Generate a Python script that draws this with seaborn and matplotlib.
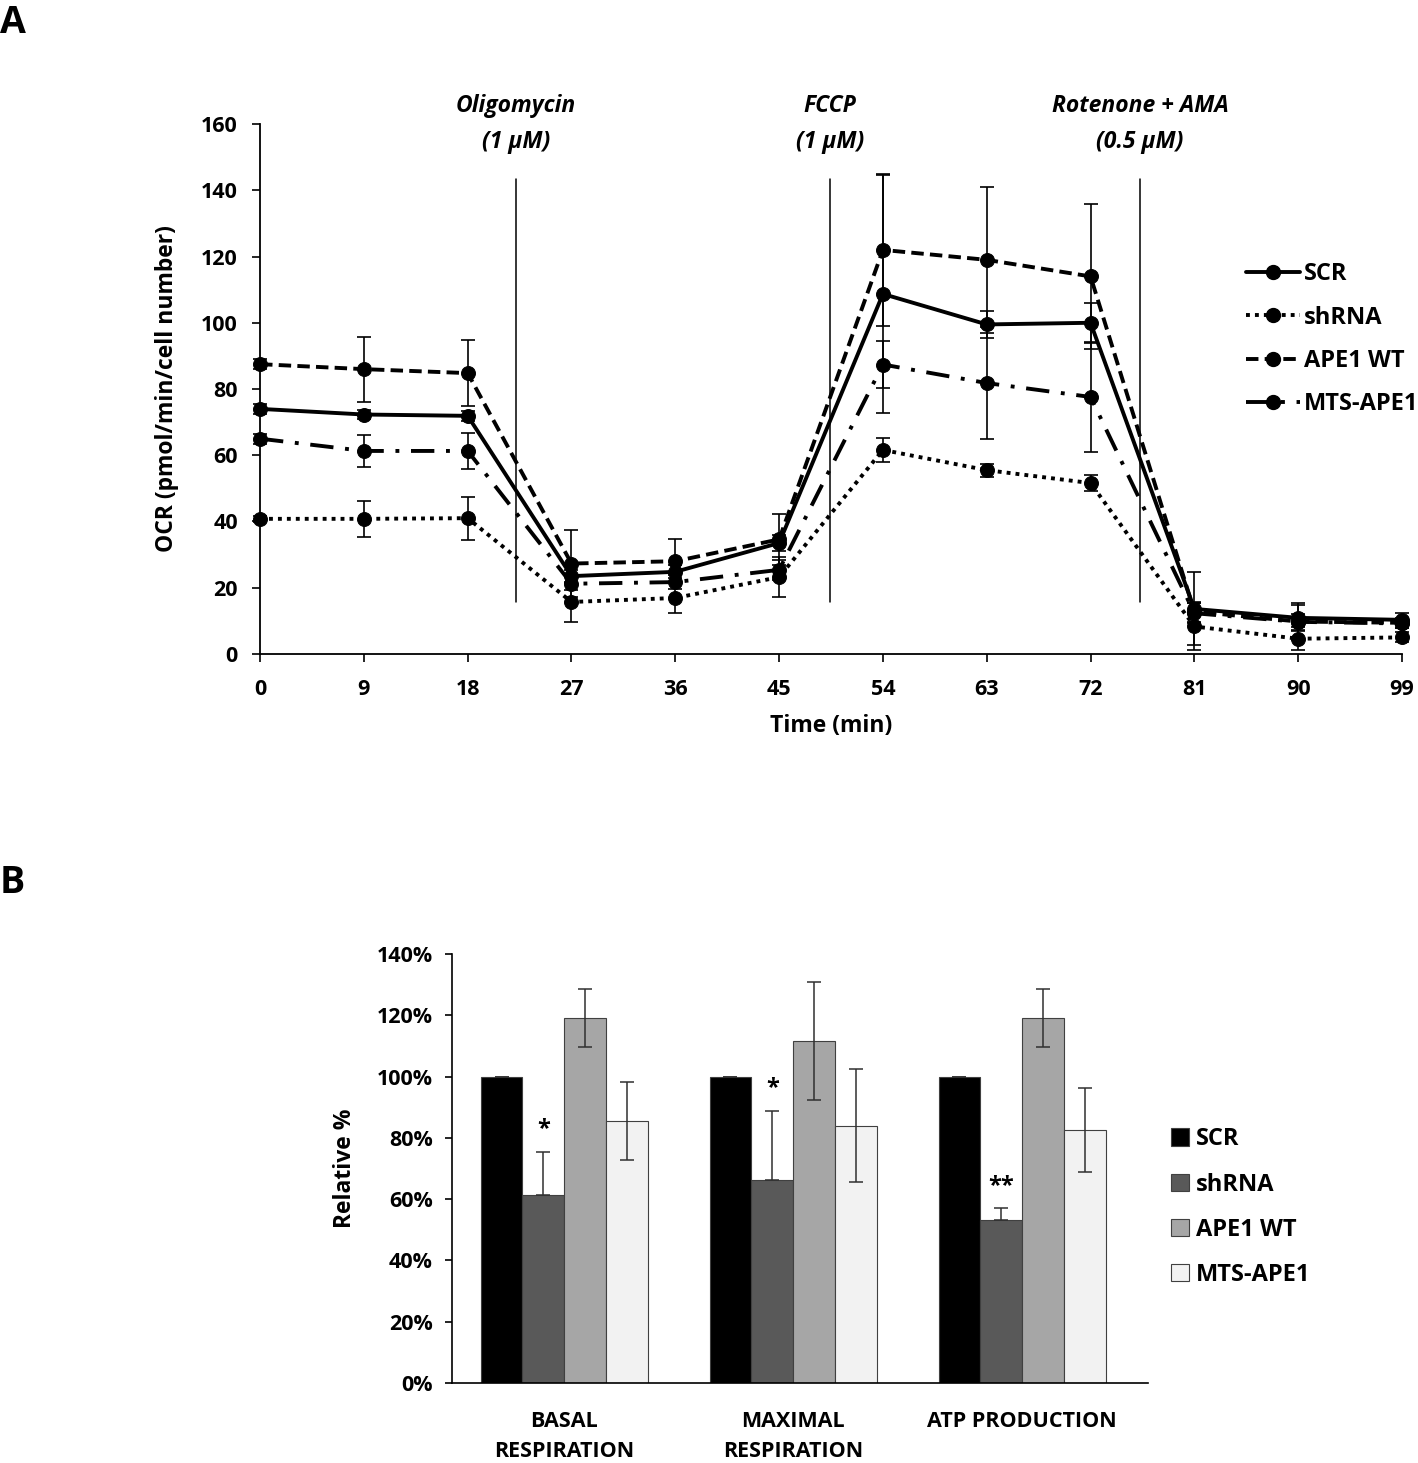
import numpy as np
import pandas as pd
import matplotlib
matplotlib.use("Agg")
import matplotlib.pyplot as plt
import seaborn as sns
from matplotlib.ticker import FuncFormatter
from matplotlib.patches import Patch
from matplotlib.lines import Line2D

sns.set_theme(style="ticks")
plt.rcParams['font.family'] = ['Open Sans', 'DejaVu Sans']
plt.rcParams['font.weight'] = 'bold'
plt.rcParams['text.color'] = 'black'
plt.rcParams['axes.labelcolor'] = 'black'
plt.rcParams['xtick.color'] = 'black'
plt.rcParams['ytick.color'] = 'black'

# ---------------- Panel A data ----------------
time = [0, 9, 18, 27, 36, 45, 54, 63, 72, 81, 90, 99]
series_names = ["SCR", "shRNA", "APE1 WT", "MTS-APE1"]
scr = [74.0, 72.3, 71.9, 23.5, 24.8, 33.5, 108.7, 99.5, 100.0, 13.6, 10.9, 10.3]
shrna = [40.8, 40.8, 41.0, 15.7, 16.9, 23.2, 61.6, 55.5, 51.6, 8.3, 4.6, 5.0]
ape1wt = [87.5, 86.0, 84.8, 27.3, 28.0, 34.6, 122.0, 119.0, 114.0, 12.8, 9.8, 9.4]
mts = [65.0, 61.3, 61.3, 21.2, 21.7, 25.4, 87.4, 81.8, 77.6, 12.3, 9.7, 9.2]
scr_err = [1.5, 1.5, 1.5, 2.0, 2.0, 2.5, 36.0, 4.0, 6.0, 11.0, 4.0, 2.0]
shrna_err = [1.0, 5.4, 6.5, 6.0, 4.6, 6.0, 3.5, 2.0, 2.5, 7.0, 3.5, 1.5]
ape1wt_err = [1.5, 9.8, 10.0, 10.0, 6.7, 7.6, 23.0, 22.0, 22.0, 3.0, 5.5, 1.5]
mts_err = [1.5, 4.9, 5.5, 2.0, 2.0, 3.0, 7.0, 17.0, 16.6, 3.0, 2.5, 1.5]

injections = ["Oligomycin\n(1 μM)", "FCCP\n(1 μM)", "Rotenone + AMA\n(0.5 μM)"]
injection_times = [22.2, 49.4, 76.3]

# ---------------- Panel B data ----------------
categories = ["BASAL\nRESPIRATION", "MAXIMAL\nRESPIRATION", "ATP PRODUCTION"]
bar_scr = [100.0, 100.0, 100.0]
bar_shrna = [61.3, 66.2, 53.2]
bar_ape1wt = [119.2, 111.5, 119.2]
bar_mts = [85.5, 84.0, 82.6]
bar_scr_err = [0.0, 0.0, 0.0]
bar_shrna_err = [14.0, 22.5, 3.8]
bar_ape1wt_err = [9.5, 19.3, 9.5]
bar_mts_err = [12.8, 18.5, 13.7]
significance = ["*", "*", "**"]

# ---------------- Figure ----------------
fig = plt.figure(figsize=(14.18, 14.63), dpi=100)

# ----- Panel A -----
axA = fig.add_axes([0.1834, 0.5530, 0.8053, 0.3622])
line_vals = [scr, shrna, ape1wt, mts]
line_errs = [scr_err, shrna_err, ape1wt_err, mts_err]
styles = ['-', (0, (1, 1.3)), (0, (3.2, 1.6)), (0, (6, 3, 1, 3))]
handles = []
for name, vals, errs, ls in zip(series_names, line_vals, line_errs, styles):
    sns.lineplot(x=time, y=vals, ax=axA, color='black', linewidth=2.8,
                 linestyle=ls, marker='o', markersize=10,
                 markeredgecolor='black', clip_on=False, zorder=3)
    axA.errorbar(time, vals, yerr=errs, fmt='none', ecolor='black',
                 elinewidth=1.2, capsize=5, capthick=1.2, clip_on=False, zorder=2)
    handles.append(Line2D([0], [0], color='black', linewidth=2.8, linestyle=ls,
                          marker='o', markersize=10))

for t, label in zip(injection_times, injections):
    axA.plot([t, t], [15.7, 143.5], color='black', linewidth=1.1, zorder=1)
    axA.text(t, 151, label, ha='center', va='bottom', fontsize=16.5,
             fontstyle='italic', fontweight='bold', linespacing=1.65,
             clip_on=False)

axA.set_xlim(0, 99)
axA.set_ylim(0, 160)
axA.set_xticks(time)
axA.set_yticks(range(0, 161, 20))
axA.tick_params(axis='both', labelsize=15.5, direction='out', length=6, width=1.2,
                colors='black')
axA.tick_params(axis='x', pad=12)
axA.tick_params(axis='y', pad=10)
for lab in axA.get_xticklabels() + axA.get_yticklabels():
    lab.set_fontweight('bold')
sns.despine(ax=axA)
for s in ['left', 'bottom']:
    axA.spines[s].set_linewidth(1.3)
    axA.spines[s].set_color('black')
axA.set_xlabel("Time (min)", fontsize=16.5, fontweight='bold', labelpad=10)
axA.set_ylabel("OCR (pmol/min/cell number)", fontsize=16.5, fontweight='bold', labelpad=16)
legA = axA.legend(handles, series_names, loc='upper left',
                  bbox_to_anchor=(0.855, 0.757), frameon=False, fontsize=17,
                  handlelength=2.3, handletextpad=0.15, labelspacing=0.82,
                  borderaxespad=0)
for t in legA.get_texts():
    t.set_fontweight('bold')

fig.text(0.0, 0.997, "A", fontsize=27, fontweight='bold', ha='left', va='top')

# ----- Panel B -----
axB = fig.add_axes([0.3188, 0.0547, 0.4908, 0.2932])
dfB = pd.DataFrame({
    "category": categories * 4,
    "group": sum([[n] * 3 for n in series_names], []),
    "value": bar_scr + bar_shrna + bar_ape1wt + bar_mts,
})
palette = {"SCR": "#000000", "shRNA": "#595959", "APE1 WT": "#a6a6a6",
           "MTS-APE1": "#f2f2f2"}
sns.barplot(data=dfB, x="category", y="value", hue="group", order=categories,
            hue_order=series_names, palette=palette, width=0.73, ax=axB,
            edgecolor='#404040', linewidth=0.8, errorbar=None, legend=False,
            saturation=1)
bar_errs = [bar_scr_err, bar_shrna_err, bar_ape1wt_err, bar_mts_err]
for i, (cont, errs) in enumerate(zip(axB.containers, bar_errs)):
    xs = [b.get_x() + b.get_width() / 2 for b in cont]
    hs = [b.get_height() for b in cont]
    if i == 1:
        yerr = [[0] * len(errs), errs]  # lower half hidden in the dark bar
    else:
        yerr = errs
    axB.errorbar(xs, hs, yerr=yerr, fmt='none', ecolor='#303030',
                 elinewidth=1.1, capsize=5, capthick=1.1)
# significance marks on shRNA bars
for b, e, s in zip(axB.containers[1], bar_shrna_err, significance):
    axB.text(b.get_x() + b.get_width() / 2, b.get_height() + e + 3.5, s,
             ha='center', va='bottom', fontsize=17, fontweight='bold')

axB.set_ylim(0, 140)
axB.set_xlim(-0.49, 2.55)
axB.set_yticks(range(0, 141, 20))
axB.yaxis.set_major_formatter(FuncFormatter(lambda v, p: f"{int(v)}%"))
axB.tick_params(axis='y', labelsize=15.5, direction='out', length=5, width=1.2,
                colors='black', pad=9)
axB.tick_params(axis='x', labelsize=15.5, length=0, pad=20, colors='black')
for lab in axB.get_xticklabels() + axB.get_yticklabels():
    lab.set_fontweight('bold')
    lab.set_linespacing(1.55)
sns.despine(ax=axB)
for s in ['left', 'bottom']:
    axB.spines[s].set_linewidth(1.2)
    axB.spines[s].set_color('black')
axB.set_xlabel("")
axB.set_ylabel("Relative %", fontsize=16.5, fontweight='bold', labelpad=14)
patch_handles = [Patch(facecolor=palette[n], edgecolor='#404040', linewidth=0.8)
                 for n in series_names]
legB = axB.legend(patch_handles, series_names, loc='upper left',
                  bbox_to_anchor=(1.02, 0.618), frameon=False, fontsize=17,
                  handlelength=0.75, handleheight=0.75, handletextpad=0.3,
                  labelspacing=0.9, borderaxespad=0)
for t in legB.get_texts():
    t.set_fontweight('bold')

fig.text(0.0, 0.4095, "B", fontsize=27, fontweight='bold', ha='left', va='top')

fig.savefig("out.png", dpi=100, facecolor='white')
